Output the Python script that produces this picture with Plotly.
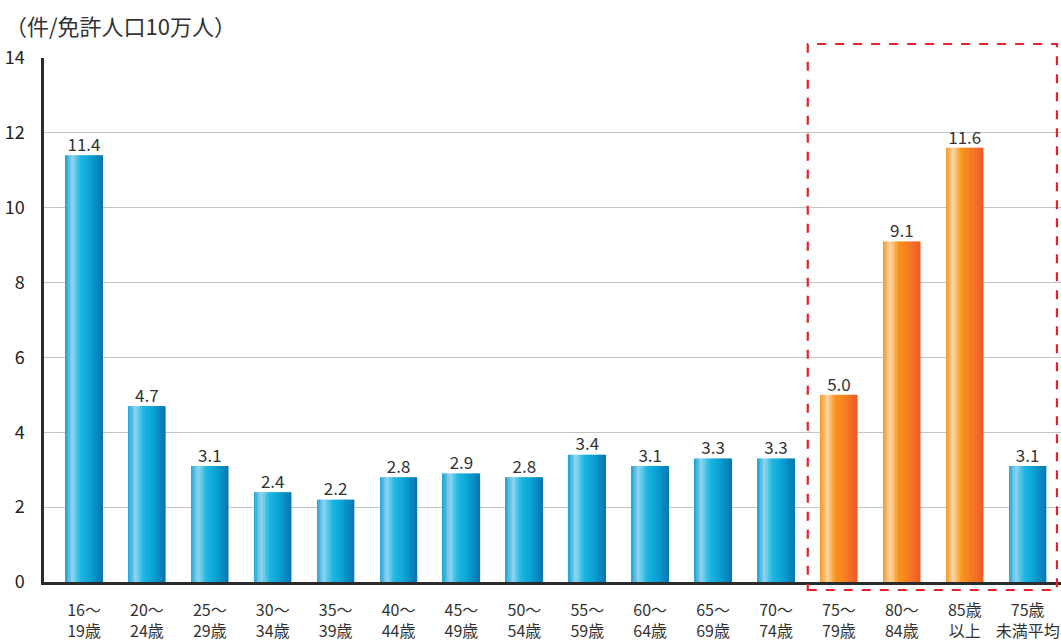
import plotly.graph_objects as go

categories = ["16～<br>19歳", "20～<br>24歳", "25～<br>29歳", "30～<br>34歳", "35～<br>39歳",
              "40～<br>44歳", "45～<br>49歳", "50～<br>54歳", "55～<br>59歳", "60～<br>64歳",
              "65～<br>69歳", "70～<br>74歳", "75～<br>79歳", "80～<br>84歳", "85歳<br>以上",
              "75歳<br>未満平均"]
values = [11.4, 4.7, 3.1, 2.4, 2.2, 2.8, 2.9, 2.8, 3.4, 3.1, 3.3, 3.3, 5.0, 9.1, 11.6, 3.1]
groups = ["under75"] * 12 + ["over75"] * 3 + ["under75"]
y_ticks = [0, 2, 4, 6, 8, 10, 12, 14]
y_title = "（件/免許人口10万人）"

FONT = "Noto Sans CJK JP, Noto Sans, sans-serif"

# horizontal gradient stops (fraction across bar, colour)
grad = {
    "under75": [(0.0, (27, 163, 214)), (0.2, (143, 213, 239)), (0.42, (30, 182, 224)),
                (0.7, (8, 160, 210)), (1.0, (8, 118, 178))],
    "over75": [(0.0, (247, 147, 30)), (0.2, (253, 214, 165)), (0.42, (247, 148, 29)),
               (0.72, (244, 122, 36)), (1.0, (240, 90, 40))],
}


def interp(stops, t):
    for (t0, c0), (t1, c1) in zip(stops, stops[1:]):
        if t0 <= t <= t1:
            f = (t - t0) / (t1 - t0) if t1 > t0 else 0
            return "rgb(%d,%d,%d)" % tuple(round(a + (b - a) * f) for a, b in zip(c0, c1))
    c = stops[-1][1]
    return "rgb(%d,%d,%d)" % c


BAR_W = 0.59
N = 24
fig = go.Figure()
for k in range(N):
    t = (k + 0.5) / N
    colors = [interp(grad[g], t) for g in groups]
    fig.add_trace(go.Bar(
        x=categories, y=values,
        width=BAR_W / N * 1.08, offset=-BAR_W / 2 + k * BAR_W / N,
        marker=dict(color=colors, line=dict(width=0)),
        showlegend=False, hoverinfo="skip",
    ))

fig.add_trace(go.Scatter(
    x=categories, y=values, mode="text",
    text=["%.1f" % v for v in values], textposition="top center",
    textfont=dict(family=FONT, size=17, color="#333333"),
    showlegend=False, hoverinfo="skip",
))

fig.update_layout(
    width=1061, height=643,
    margin=dict(l=44, r=0, t=58, b=61),
    paper_bgcolor="white", plot_bgcolor="white",
    barmode="overlay",
    font=dict(family=FONT, color="#333333"),
    xaxis=dict(
        type="category", range=[-0.636, 15.53], automargin=False,
        showgrid=False, showline=True, linecolor="#2b2b2b", linewidth=2.5,
        ticks="", tickfont=dict(family=FONT, size=16, color="#333333"),
        ticklabelstandoff=12,
    ),
    yaxis=dict(
        range=[0, 14], tickvals=y_ticks, automargin=False,
        showgrid=True, gridcolor="#c4c4c4", gridwidth=1.2,
        showline=True, linecolor="#2b2b2b", linewidth=2.5,
        zeroline=False, ticks="", ticklabelstandoff=13,
        tickfont=dict(family=FONT, size=18, color="#222222"),
    ),
    annotations=[dict(
        text=y_title, xref="paper", yref="paper", x=-0.04, y=1.063,
        xanchor="left", yanchor="middle", showarrow=False,
        font=dict(family=FONT, size=22, color="#333333"),
    )],
    shapes=[dict(
        type="rect", xref="paper", yref="paper",
        x0=0.751, x1=0.996, y0=-0.0153, y1=1.0267,
        line=dict(color="#e8202a", width=2.2, dash="dash"),
        fillcolor="rgba(0,0,0,0)", layer="above",
    )],
)

fig.write_html("out.html", config={"displayModeBar": False},
               post_script="document.body.style.margin='0';document.body.style.overflow='hidden';")
